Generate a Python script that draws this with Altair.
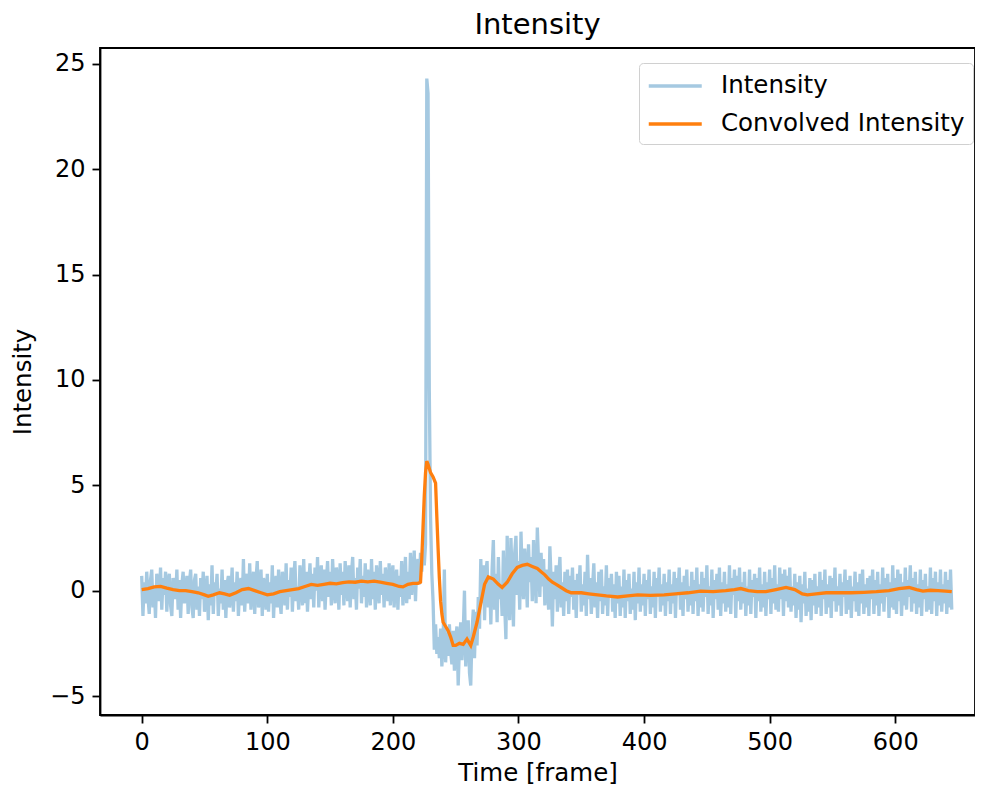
import altair as alt
import pandas as pd

# Raw intensity, one value per frame (frame = index)
raw_intensity = [
    0.7, -1.2, 0.4, -0.6, 0.9, -0.3, -1.1, 0.5, 1.0, -0.8, 0.2, -1.3, 0.8, 0.3, -0.5, 1.1, -0.9, 0.6, -0.2, 0.9,
    -1.0, 0.4, 0.8, -0.7, -1.2, 0.6, 0.1, -0.4, 1.0, -0.9, 0.5, -1.3, 0.3, 0.9, -0.6, -0.1, 0.7, -1.1, 0.4, 1.0,
    -0.8, -1.3, 0.5, 0.8, -0.9, 0.2, -1.2, 0.6, -0.4, 0.9, -1.0, -0.3, 0.7, -1.4, 0.3, -0.7, 1.2, -1.1, 0.4, -0.2,
    0.8, -1.2, 0.1, -0.6, 1.0, -0.9, 0.5, -1.3, 0.3, 0.7, -0.8, -0.2, 1.1, -1.0, 0.4, -0.5, 0.9, -1.2, 0.2, 0.6,
    -0.7, 1.5, -1.0, 0.3, 0.8, -0.6, 1.3, -0.9, 0.1, 0.9, -1.1, 0.5, 1.4, -0.8, -0.3, 1.0, -1.2, 0.6, 0.2, -0.9,
    0.8, -1.0, 0.4, -0.6, 1.2, -1.3, 0.3, 0.7, -0.8, 1.0, -0.4, -1.1, 0.9, 0.2, -0.7, 1.3, -0.9, 0.5, -0.3, 1.1,
    -1.0, 0.6, 1.4, -0.5, 0.2, -0.9, 1.2, 0.4, -0.7, 1.5, -0.6, 0.9, -1.0, 0.3, 1.3, -0.4, 0.8, -0.8, 1.1, 0.0,
    1.6, -0.8, 0.7, 1.2, -0.5, 1.0, -0.9, 0.4, 1.4, -0.3, 0.9, -0.7, 1.5, 0.2, -0.6, 1.1, 0.5, -0.9, 1.3, -0.2,
    0.9, -0.7, 1.4, 0.3, -0.5, 1.2, -0.8, 0.8, 1.6, -0.4, 0.6, -0.9, 1.1, 0.1, 1.5, -0.6, 0.7, -0.3, 1.3, -0.8,
    1.0, 0.2, -0.7, 1.5, -0.4, 0.9, -0.9, 1.2, 0.4, -0.6, 1.4, -0.2, 0.8, -0.8, 1.1, 0.3, -0.5, 1.3, -0.7, 0.6,
    1.2, -0.8, 0.5, 1.0, -0.9, 0.7, -0.3, 1.4, -0.7, 0.2, 1.6, -0.6, 0.9, -0.4, 1.8, -0.2, 0.6, 1.9, -0.5, 1.2,
    1.5, 0.3, 1.8, 0.9, 2.0, 1.2, 2.2, 24.3, 23.6, 9.5, 3.5, 0.8, -0.5, -2.8, -1.6, -3.0, -2.2, -3.2, -1.8, -3.6,
    -2.4, 1.0, -3.4, -2.0, -3.1, -1.6, -2.9, -3.5, -1.9, -3.8, -2.3, -1.7, -4.5, -2.6, -1.5, -3.3, -2.0, 0.0, -3.6, -2.2,
    -1.4, -3.9, -4.5, -2.0, -0.9, -3.2, -1.0, -2.6, -0.3, -1.8, 1.5, -0.6, 1.2, -1.4, 0.9, 1.4, -0.8, 0.6, -1.6, 1.0,
    2.4, -0.9, 0.8, -1.5, 1.6, -0.4, 0.3, -1.2, 1.9, -0.7, -2.3, 2.6, 0.2, -1.4, 2.5, 0.5, -1.7, 1.8, 2.6, -0.2,
    1.4, -0.9, 2.8, 0.6, -0.4, 2.0, 1.1, -0.8, 2.2, 0.4, 1.6, -0.5, 2.4, 0.9, -0.6, 3.0, 1.3, -0.3, 1.8, 0.2,
    1.5, -0.7, 1.0, 0.3, -0.9, 2.1, 0.5, -1.7, 0.9, -0.4, 1.2, -1.0, 0.6, 1.6, -0.8, 0.4, -1.2, 0.9, -0.5, 1.0,
    -1.1, 0.7, -0.3, 1.1, -0.9, 0.5, -1.3, 0.8, -0.2, 1.2, -1.0, 0.3, -0.7, 0.9, -1.2, 1.7, -0.4, 0.6, -1.1, 0.2,
    1.3, -0.8, 0.4, -1.3, 0.9, -0.5, 1.0, -1.1, 0.2, -0.7, 1.2, -1.2, 0.6, -0.3, 0.8, -1.0, 0.3, -1.3, 0.9, -0.6,
    0.7, -1.2, 0.2, -0.8, 1.0, -1.3, 0.5, -0.5, 0.8, -1.1, 0.1, -0.9, 0.9, -1.4, 0.4, -0.6, 1.1, -1.0, 0.3, -0.7,
    0.8, -1.2, 0.5, -0.4, 1.0, -1.1, 0.2, -0.8, 0.9, -1.3, 0.6, -0.3, 1.1, -1.0, 0.3, -0.7, 0.8, -1.2, 0.4, -0.5,
    1.0, -1.1, 0.3, -0.6, 0.9, -1.3, 0.6, -0.2, 1.1, -0.9, 0.4, -1.2, 0.7, -0.4, 1.0, -1.0, 0.2, -0.7, 0.9, -1.1,
    0.5, -0.5, 1.1, -1.2, 0.3, -0.8, 0.9, -1.0, 0.6, -0.3, 1.2, -1.1, 0.2, -0.7, 1.0, -1.3, 0.5, -0.4, 0.8, -0.9,
    1.1, -1.2, 0.4, -0.6, 0.9, -1.0, 0.3, -0.8, 1.2, -1.1, 0.6, -0.2, 1.0, -1.3, 0.7, -0.5, 1.1, -0.9, 0.4, -0.6,
    0.9, -1.2, 0.2, -0.7, 1.0, -1.1, 0.5, -0.3, 0.8, -1.3, 0.6, -0.5, 1.1, -1.0, 0.3, -0.8, 0.9, -1.2, 0.4, -0.4,
    1.0, -1.1, 0.6, -0.6, 1.2, -0.9, 0.3, -1.0, 1.1, -0.4, 0.8, -1.2, 1.0, -0.5, 0.7, -0.8, 1.1, -1.0, 0.2, -0.7,
    0.8, -1.3, 0.4, -0.9, 0.7, -1.5, 0.3, -0.6, 0.9, -1.2, 0.1, -1.0, 0.6, -1.4, 0.5, -0.7, 0.8, -1.1, 0.2, -0.8,
    0.9, -1.2, 0.5, -0.4, 1.0, -1.1, 0.3, -0.8, 0.7, -1.3, 0.6, -0.5, 1.1, -1.0, 0.2, -0.7, 0.8, -1.2, 0.4, -0.3,
    1.0, -1.1, 0.5, -0.9, 0.7, -1.3, 0.2, -0.5, 0.9, -1.0, 0.4, -1.2, 0.8, -0.6, 1.0, -1.1, 0.3, -0.8, 0.6, -1.2,
    0.7, -0.4, 1.0, -1.1, 0.5, -0.7, 0.9, -1.2, 0.3, -0.6, 1.1, -1.0, 0.6, -0.3, 0.8, -1.3, 0.4, -0.8, 1.2, -0.9,
    0.6, -1.1, 1.0, -0.5, 0.8, -1.2, 0.4, -0.7, 1.1, -0.9, 0.5, -0.3, 1.2, -1.0, 0.6, -0.6, 0.9, -1.1, 0.3, -0.8,
    1.0, -1.2, 0.5, -0.4, 0.8, -1.0, 0.2, -0.9, 1.1, -1.1, 0.6, -0.5, 0.9, -1.2, 0.4, -0.7, 1.0, -1.0, 0.3, -0.6,
    0.9, -1.1, 0.5, -0.8, 1.0, -0.9,
]
raw_frames = list(range(len(raw_intensity)))

# Convolved (smoothed) intensity
conv_frames = [
    0, 5, 10, 15, 20, 25, 30, 35, 40, 45, 50, 53, 57, 62, 66, 70, 75, 80, 85, 90,
    95, 100, 105, 110, 115, 120, 125, 130, 135, 140, 145, 150, 155, 160, 165, 170, 175, 180, 185, 190,
    195, 200, 205, 208, 212, 216, 220, 222, 223, 224, 225, 226, 227, 228, 230, 232, 234, 235, 236, 237,
    238, 239, 240, 242, 244, 246, 248, 250, 253, 256, 259, 262, 264, 267, 270, 273, 276, 280, 284, 287,
    291, 295, 299, 303, 307, 311, 315, 318, 321, 324, 327, 330, 334, 338, 342, 350, 356, 363, 370, 379,
    387, 395, 405, 416, 425, 435, 445, 455, 465, 472, 477, 483, 490, 497, 505, 513, 520, 526, 530, 537,
    545, 555, 565, 575, 585, 595, 603, 611, 617, 622, 628, 634, 640, 645,
]
conv_intensity = [
    0.05, 0.1, 0.18, 0.2, 0.12, 0.05, 0.0, 0.0, -0.05, -0.1, -0.2, -0.27, -0.2, -0.1, -0.15, -0.22, -0.1, 0.05, 0.1, 0.0,
    -0.1, -0.2, -0.15, -0.05, 0.0, 0.05, 0.1, 0.2, 0.3, 0.25, 0.3, 0.35, 0.32, 0.38, 0.42, 0.4, 0.45, 0.42, 0.45, 0.4,
    0.35, 0.3, 0.2, 0.18, 0.3, 0.35, 0.35, 0.4, 1.5, 3.0, 4.5, 5.6, 6.15, 6.0, 5.6, 5.4, 5.1, 3.5, 2.0, 0.6,
    -0.5, -1.1, -1.5, -1.7, -1.9, -2.2, -2.6, -2.6, -2.5, -2.55, -2.3, -2.6, -2.2, -1.5, -0.6, 0.3, 0.65, 0.55, 0.3, 0.15,
    0.4, 0.8, 1.1, 1.2, 1.25, 1.15, 1.05, 0.9, 0.75, 0.55, 0.4, 0.3, 0.15, 0.0, -0.1, -0.1, -0.15, -0.2, -0.25, -0.3,
    -0.25, -0.2, -0.22, -0.2, -0.15, -0.1, -0.02, -0.05, 0.0, 0.05, 0.1, 0.0, -0.05, -0.05, 0.05, 0.15, 0.05, -0.15, -0.2, -0.15,
    -0.1, -0.1, -0.1, -0.08, -0.05, 0.0, 0.1, 0.15, 0.05, -0.02, 0.02, 0.0, -0.02, -0.05,
]

series_names = ["Intensity", "Convolved Intensity"]
series_colors = ["#a5c9e1", "#ff7f0e"]

raw_df = pd.DataFrame({"frame": raw_frames, "value": raw_intensity, "series": series_names[0]})
conv_df = pd.DataFrame({"frame": conv_frames, "value": conv_intensity, "series": series_names[1]})

FONT = "DejaVu Sans"

x_enc = alt.X("frame:Q", title="Time [frame]",
              scale=alt.Scale(domain=[-33.2, 663.5], nice=False, zero=False),
              axis=alt.Axis(values=[0, 100, 200, 300, 400, 500, 600], format="d"))
y_enc = alt.Y("value:Q", title="Intensity",
              scale=alt.Scale(domain=[-5.9, 25.75], nice=False, zero=False),
              axis=alt.Axis(values=[-5, 0, 5, 10, 15, 20, 25], format="d"))
color_enc = alt.Color("series:N",
                      scale=alt.Scale(domain=series_names, range=series_colors),
                      legend=alt.Legend(title=None, orient="none", legendX=539, legendY=15,
                                        symbolType="M-1,0H3", symbolSize=702,
                                        symbolStrokeWidth=3.3, labelFontSize=24.5,
                                        labelFont=FONT, labelColor="black", labelLimit=600,
                                        labelOffset=44, rowPadding=11, padding=8,
                                        strokeColor="#d0d0d0", fillColor="white",
                                        cornerRadius=4))

raw_line = alt.Chart(raw_df).mark_line(strokeWidth=3.3, clip=True).encode(
    x=x_enc, y=y_enc, color=color_enc, order="frame:Q")
conv_line = alt.Chart(conv_df).mark_line(strokeWidth=3.3, clip=True).encode(
    x=x_enc, y=y_enc, color=color_enc, order="frame:Q")

chart = alt.layer(raw_line, conv_line).properties(
    width=875, height=667,
    title=alt.Title("Intensity", fontSize=29, font=FONT, fontWeight="normal", color="black", offset=8),
    autosize=alt.AutoSizeParams(type="none"),
    padding={"left": 92, "top": 40, "right": 0, "bottom": 71},
).configure_view(
    stroke="black", strokeWidth=1.8
).configure_axis(
    grid=False, domainColor="black", domainWidth=1.8, tickColor="black", tickWidth=1.8,
    tickSize=8, labelFontSize=24, titleFontSize=24.5, labelFont=FONT, titleFont=FONT,
    labelColor="black", titleColor="black", titleFontWeight="normal",
).configure_axisX(labelPadding=7, titlePadding=7).configure_axisY(labelPadding=7, titlePadding=14)

chart.save("out.html", embed_options={"renderer": "svg", "actions": False})
